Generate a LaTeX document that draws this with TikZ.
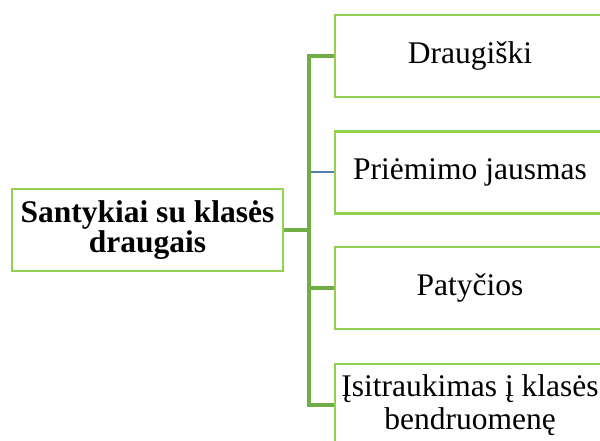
\documentclass[tikz,border=0pt]{standalone}
\usepackage{fontspec}
\setmainfont{Liberation Serif}
\definecolor{boxgreen}{RGB}{146,208,80}
\definecolor{linegreen}{RGB}{112,173,71}
\definecolor{lineblue}{RGB}{79,129,189}
\begin{document}
\begin{tikzpicture}[x=1pt,y=1pt,
  box/.style={draw=boxgreen, line width=2.4pt, fill=white, minimum width=270pt, minimum height=82pt,
    inner sep=0pt, align=center, font=\fontsize{31.5}{31}\selectfont},
  conn/.style={draw=linegreen, line width=3.5pt},
  connb/.style={draw=lineblue, line width=2pt}]
\useasboundingbox (0,0) rectangle (600,441);
\clip (0,0) rectangle (600,441);
\node[box, minimum width=271pt, font=\fontsize{31.5}{30}\selectfont\bfseries] (L) at (147.5,211) {Santykiai su klasės\\draugais};
\node[box] (B1) at (470,385) {Draugiški};
\node[box] (B2) at (470,268.5) {Priėmimo jausmas};
\node[box] (B3) at (470,153) {Patyčios};
\node[box, font=\fontsize{31.5}{33}\selectfont] (B4) at (470,36) {Įsitraukimas į klasės\\bendruomenę};
\coordinate (bx) at (309,0);
\draw[conn] (L.east) -- (L.east -| bx);
\draw[conn] ([yshift=1.75pt]B1.west -| bx) -- ([yshift=-1.75pt]B4.west -| bx);
\draw[conn] (B1.west -| bx) -- (B1.west);
\draw[conn] (B3.west -| bx) -- (B3.west);
\draw[conn] (B4.west -| bx) -- (B4.west);
\draw[connb] ([xshift=1.75pt]B2.west -| bx) -- (B2.west);
\end{tikzpicture}
\end{document}
